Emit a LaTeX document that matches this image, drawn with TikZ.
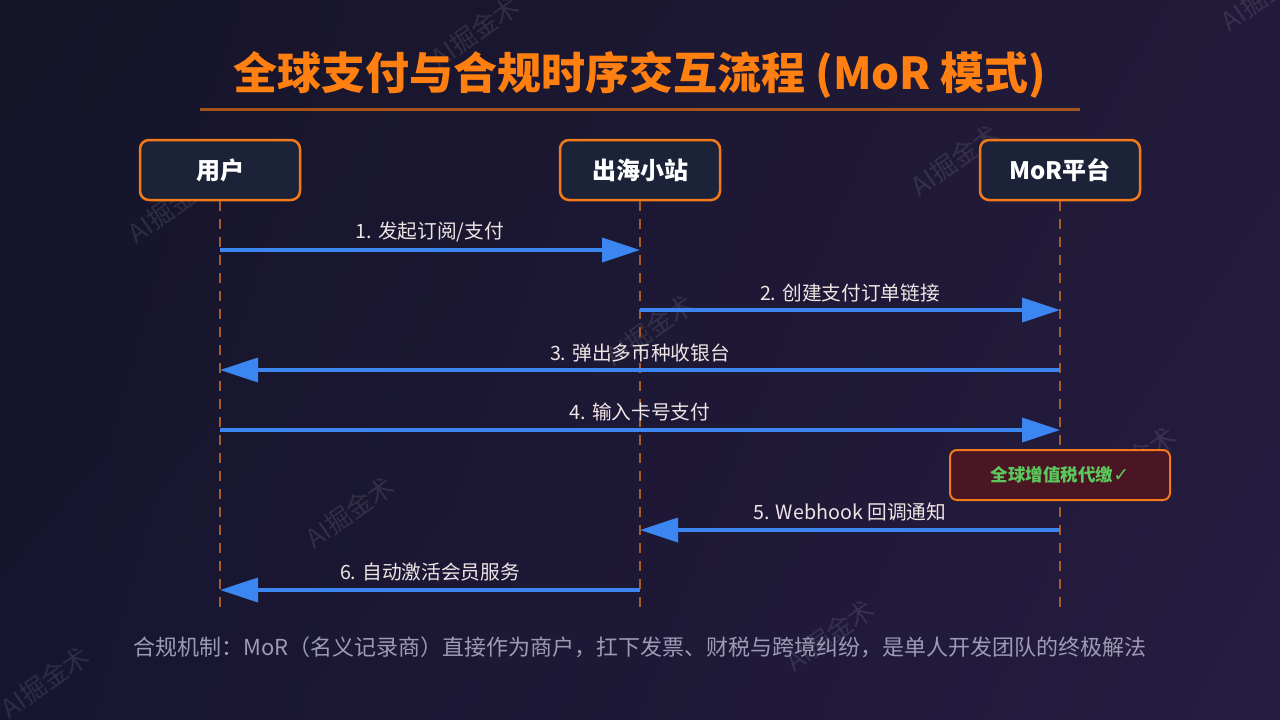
\documentclass[tikz,border=0pt]{standalone}
\usepackage{fontspec}
\setmainfont{Noto Sans CJK SC}
\newfontfamily\symfont{DejaVu Sans}
\usetikzlibrary{arrows.meta,shadings}
\definecolor{bgUL}{HTML}{151428}
\definecolor{bgUR}{HTML}{221A3A}
\definecolor{bgLL}{HTML}{171530}
\definecolor{bgLR}{HTML}{261C40}
\definecolor{titleC}{HTML}{FF7F11}
\definecolor{ruleC}{HTML}{A4531C}
\definecolor{boxBorder}{HTML}{F27A1A}
\definecolor{boxFill}{HTML}{1C2338}
\definecolor{lifeC}{HTML}{A85A28}
\definecolor{msgC}{HTML}{3B86F0}
\definecolor{lblC}{HTML}{EFE4E4}
\definecolor{taxFill}{HTML}{4A1624}
\definecolor{taxText}{HTML}{5CC95C}
\definecolor{noteC}{HTML}{9C9AB4}
\tikzset{
  actor/.style={draw=boxBorder, line width=2.5pt, fill=boxFill, rounded corners=9pt,
    minimum width=160pt, minimum height=60pt, text=white, inner sep=0pt,
    font=\bfseries\fontsize{24}{24}\selectfont},
  life/.style={draw=lifeC, line width=2pt, dash pattern=on 10pt off 8pt},
  msg/.style={draw=msgC, line width=3.5pt, -{Triangle[length=38pt,width=24pt]}},
  lbl/.style={text=lblC, inner sep=0pt, font=\fontsize{19.7}{19.7}\selectfont},
  taxbox/.style={draw=boxBorder, line width=2pt, fill=taxFill, rounded corners=7pt,
    minimum width=220pt, minimum height=50pt, text=taxText, inner sep=0pt,
    font=\bfseries\fontsize{17.5}{17.5}\selectfont},
  wm/.style={text=white, opacity=0.10, rotate=35, inner sep=0pt,
    font=\fontsize{26}{26}\selectfont},
}
\begin{document}
\begin{tikzpicture}[x=1pt,y=-1pt]
\useasboundingbox (0,0) rectangle (1280,720);
\shade[upper left=bgUL, upper right=bgUR, lower left=bgLL, lower right=bgLR]
  (0,0) rectangle (1280,720);

% watermarks
\node[wm] (w1) at (475,32) {AI掘金术};
\node[wm] (w2) at (172,207) {AI掘金术};
\node[wm] (w3) at (955,160) {AI掘金术};
\node[wm] (w4) at (650,330) {AI掘金术};
\node[wm] (w5) at (350,512) {AI掘金术};
\node[wm] (w6) at (1132,462) {AI掘金术};
\node[wm] (w7) at (830,635) {AI掘金术};
\node[wm] (w8) at (45,682) {AI掘金术};
\node[wm] (w9) at (1265,-5) {AI掘金术};

% title
\node[text=titleC, inner sep=0pt, font=\bfseries\fontsize{44}{44}\selectfont] (title) at (640,75)
  {全球支付与合规时序交互流程 (MoR 模式)};
\coordinate (ruleL) at (200,109);
\coordinate (ruleR) at (1080,109);
\draw[draw=ruleC, line width=3pt] (ruleL) -- (ruleR);

% actors
\node[actor] (user) at (220,170) {用户};
\node[actor] (site) at (640,170) {出海小站};
\node[actor] (mor) at (1060,170) {MoR平台};

% lifeline ends
\coordinate (userEnd) at (220,610);
\coordinate (siteEnd) at (640,610);
\coordinate (morEnd) at (1060,610);
\draw[life] (user.south) -- (userEnd);
\draw[life] (site.south) -- (siteEnd);
\draw[life] (mor.south) -- (morEnd);

% message anchor points
\coordinate (u1) at (220,250); \coordinate (s1) at (640,250);
\coordinate (s2) at (640,310); \coordinate (m2) at (1060,310);
\coordinate (m3) at (1060,370); \coordinate (u3) at (220,370);
\coordinate (u4) at (220,430); \coordinate (m4) at (1060,430);
\coordinate (m5) at (1060,530); \coordinate (s5) at (640,530);
\coordinate (s6) at (640,590); \coordinate (u6) at (220,590);

% tax box
\node[taxbox] (tax) at (1060,475) {全球增值税代缴{\symfont\mdseries\fontsize{19}{19}\selectfont ✓}};

% messages
\draw[msg] (u1) -- (s1) node[lbl, midway, yshift=18pt] (l1) {1. 发起订阅/支付};
\draw[msg] (s2) -- (m2) node[lbl, midway, yshift=17pt] (l2) {2. 创建支付订单链接};
\draw[msg] (m3) -- (u3) node[lbl, midway, yshift=17pt] (l3) {3. 弹出多币种收银台};
\draw[msg] (u4) -- (m4) node[lbl, midway, yshift=18pt] (l4) {4. 输入卡号支付};
\draw[msg] (m5) -- (s5) node[lbl, midway, yshift=18pt] (l5) {5. Webhook 回调通知};
\draw[msg] (s6) -- (u6) node[lbl, midway, yshift=18pt] (l6) {6. 自动激活会员服务};

% bottom note
\node[text=noteC, inner sep=0pt, font=\fontsize{22}{22}\selectfont] (note) at (640,647)
  {合规机制：MoR（名义记录商）直接作为商户，扛下发票、财税与跨境纠纷，是单人开发团队的终极解法};
\end{tikzpicture}
\end{document}
